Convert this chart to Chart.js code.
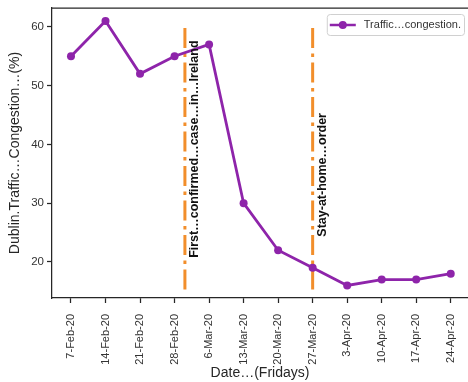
<!DOCTYPE html>
<html>
<head>
<meta charset="utf-8">
<script src="https://cdn.jsdelivr.net/npm/chart.js@4"></script>
<style>
  html, body { margin: 0; padding: 0; background: #fff; }
  #wrap { width: 468px; height: 382px; }
</style>
</head>
<body>
<div id="wrap"><canvas id="trafficChart"></canvas></div>
<script>
const dateLabels = ['7-Feb-20', '14-Feb-20', '21-Feb-20', '28-Feb-20', '6-Mar-20', '13-Mar-20',
    '20-Mar-20', '27-Mar-20', '3-Apr-20', '10-Apr-20', '17-Apr-20', '24-Apr-20'];
const congestion = [55, 61, 52, 55, 57, 30, 22, 19, 16, 17, 17, 18];
const yTicks = [20, 30, 40, 50, 60];

// vertical event markers (x in week index, label start in % units)
const eventX = [3.3, 7];
const eventText = ['First…confirmed…case…in…Ireland', 'Stay-at-home…order'];
const eventTextY = [20.7, 24.3];
const eventLineY = [15.3, 60.5];

const seriesName = 'Traffic…congestion.';
const purple = '#8e24aa';
const orange = '#f28e2b';
const axisColor = '#262626';
const fontFamily = '"Liberation Sans", Arial, sans-serif';

const eventsPlugin = {
    id: 'events',
    beforeDatasetsDraw(chart) {
        const ctx = chart.ctx;
        const x = chart.scales.x, y = chart.scales.y;
        ctx.save();
        ctx.strokeStyle = orange;
        ctx.lineWidth = 3;
        ctx.setLineDash([20, 5.5, 3.5, 5.5]);
        eventX.forEach(v => {
            const px = x.getPixelForValue(v);
            ctx.beginPath();
            ctx.moveTo(px, y.getPixelForValue(eventLineY[0]));
            ctx.lineTo(px, y.getPixelForValue(eventLineY[1]));
            ctx.stroke();
        });
        ctx.restore();
    },
    afterDatasetsDraw(chart) {
        const ctx = chart.ctx;
        const x = chart.scales.x, y = chart.scales.y;
        const area = chart.chartArea;
        ctx.save();
        // top frame line
        ctx.strokeStyle = axisColor;
        ctx.lineWidth = 1.25;
        ctx.beginPath();
        ctx.moveTo(area.left, area.top);
        ctx.lineTo(area.right + 2, area.top);
        ctx.stroke();

        // rotated event labels
        ctx.fillStyle = '#111';
        ctx.font = 'bold 12.5px ' + fontFamily;
        ctx.textBaseline = 'middle';
        ctx.textAlign = 'left';
        eventX.forEach((v, i) => {
            ctx.save();
            ctx.translate(x.getPixelForValue(v) + 10, y.getPixelForValue(eventTextY[i]));
            ctx.rotate(-Math.PI / 2);
            ctx.fillText(eventText[i], 0, 0);
            ctx.restore();
        });

        // legend box
        ctx.font = '11px ' + fontFamily;
        const textW = ctx.measureText(seriesName).width;
        const boxR = area.right - 4;
        const boxL = boxR - textW - 40;
        const boxT = area.top + 6, boxH = 21;
        ctx.strokeStyle = '#d0d0d0';
        ctx.lineWidth = 1;
        ctx.fillStyle = 'rgba(255,255,255,0.8)';
        ctx.beginPath();
        ctx.roundRect(boxL + 0.5, boxT + 0.5, boxR - boxL, boxH, 3);
        ctx.fill();
        ctx.stroke();
        const midY = boxT + boxH / 2 + 0.5;
        ctx.strokeStyle = purple;
        ctx.lineWidth = 2.5;
        ctx.beginPath();
        ctx.moveTo(boxL + 3, midY);
        ctx.lineTo(boxL + 29, midY);
        ctx.stroke();
        ctx.fillStyle = purple;
        ctx.beginPath();
        ctx.arc(boxL + 16, midY, 4, 0, Math.PI * 2);
        ctx.fill();
        ctx.fillStyle = '#333';
        ctx.textAlign = 'left';
        ctx.fillText(seriesName, boxL + 37, midY);
        ctx.restore();
    }
};

const ctx = document.getElementById('trafficChart').getContext('2d');
new Chart(ctx, {
    type: 'line',
    data: {
        datasets: [{
            label: seriesName,
            data: congestion.map((v, i) => ({ x: i, y: v })),
            borderColor: purple,
            backgroundColor: purple,
            borderWidth: 2.8,
            pointRadius: 4,
            pointBackgroundColor: purple,
            pointBorderWidth: 0,
            tension: 0
        }]
    },
    options: {
        responsive: true,
        maintainAspectRatio: false,
        animation: false,
        layout: { autoPadding: false, padding: { top: 8, right: 0, left: 0, bottom: 0 } },
        plugins: {
            legend: { display: false },
            tooltip: { enabled: false }
        },
        scales: {
            x: {
                type: 'linear',
                min: -0.55,
                max: 11.5,
                afterBuildTicks: scale => { scale.ticks = dateLabels.map((_, i) => ({ value: i })); },
                afterFit: scale => {
                    scale.height = 84;
                    scale.paddingLeft = 0;
                    scale.paddingRight = 0;
                },
                grid: { drawOnChartArea: false, drawTicks: true, tickLength: 5, color: axisColor, tickWidth: 1.25 },
                border: { display: true, color: axisColor, width: 1.25 },
                ticks: {
                    autoSkip: false,
                    minRotation: 90,
                    maxRotation: 90,
                    padding: 11,
                    color: '#333',
                    font: { family: fontFamily, size: 11 },
                    callback: v => dateLabels[v]
                },
                title: {
                    display: true,
                    text: 'Date…(Fridays)',
                    color: '#262626',
                    font: { family: fontFamily, size: 14 },
                    padding: { top: 4, bottom: 0 }
                }
            },
            y: {
                min: 13.87,
                max: 63.2,
                afterBuildTicks: scale => { scale.ticks = yTicks.map(v => ({ value: v })); },
                afterFit: scale => {
                    scale.width = 52;
                    scale.paddingTop = 0;
                    scale.paddingBottom = 0;
                },
                grid: { drawOnChartArea: false, drawTicks: true, tickLength: 5, color: axisColor, tickWidth: 1.25 },
                border: { display: true, color: axisColor, width: 1.25 },
                ticks: {
                    padding: 3,
                    color: '#333',
                    font: { family: fontFamily, size: 11.5 }
                },
                title: {
                    display: true,
                    text: 'Dublin.Traffic…Congestion…(%)',
                    color: '#262626',
                    font: { family: fontFamily, size: 14 },
                    padding: { top: 7, bottom: 0 }
                }
            }
        }
    },
    plugins: [eventsPlugin]
});
</script>
</body>
</html>
